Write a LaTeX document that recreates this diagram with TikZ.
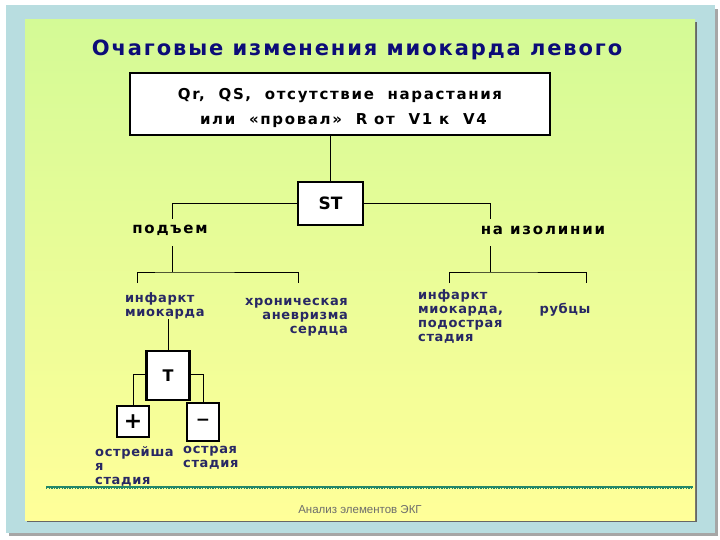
\documentclass[tikz,border=0pt]{standalone}
\usepackage{fontspec}
\setmainfont{DejaVu Sans}
\newfontfamily\lblfont[LetterSpace=5]{DejaVu Sans}
\newfontfamily\blkfont[LetterSpace=12]{DejaVu Sans}
\newfontfamily\ttlfont[LetterSpace=9]{DejaVu Sans}
\newfontfamily\boxfont[LetterSpace=11]{DejaVu Sans}
\newfontfamily\footfont{Liberation Sans}
\usetikzlibrary{calc}
\definecolor{frameblue}{RGB}{184,221,224}
\definecolor{topgreen}{RGB}{212,250,150}
\definecolor{botyellow}{RGB}{255,255,153}
\definecolor{navy}{RGB}{12,12,120}
\definecolor{lblnavy}{RGB}{40,40,100}
\definecolor{teal}{RGB}{35,135,105}
\tikzset{
  x=1pt, y=-1pt,
  wbox/.style={draw=black, line width=2.6pt, fill=white, inner sep=0pt, minimum width=#1},
  conn/.style={draw=black, line width=0.9pt},
  lbl/.style={text=lblnavy, font=\lblfont\bfseries\fontsize{13}{14}\selectfont, inner sep=0pt},
  blk/.style={text=black, font=\blkfont\bfseries\fontsize{15}{17}\selectfont, inner sep=0pt},
}
\begin{document}
\begin{tikzpicture}
\useasboundingbox (0,0) rectangle (720,540);
% outer frame with shadow
\fill[gray!70] (9,9) rectangle (718,536);
\fill[frameblue] (6,5) rectangle (715,533);
% inner panel shadow and gradient
\fill[gray!80!black] (27,22) rectangle (697,522);
\shade[top color=topgreen, bottom color=botyellow] (25,20) rectangle (695,520);
% title
\node (title) [text=navy, font=\ttlfont\bfseries\fontsize{21}{24}\selectfont] at (357,50) {Очаговые изменения миокарда левого};
% top box
\node (top) [wbox=420pt, minimum height=62pt, align=center, font=\boxfont\bfseries\fontsize{15}{25}\selectfont] at (340,104)
  {\rule{0pt}{19pt}Qr,\ \ QS,\ \ отсутствие\ \ нарастания\\ \ или\ \ «провал»\ \ R от\ \ V1 к\ \ V4};
% ST box
\node (ST) [wbox=65pt, minimum height=43pt, font=\bfseries\fontsize{17}{20}\selectfont] at (330.5,203.5) {ST};
\draw[conn] (ST.north) -- (ST.north |- top.south);
% branch labels
\node (lift) [blk] at (170,230) {подъем};
\node (iso) [blk] at (543,230) {на изолинии};
\coordinate (lt) at (172,219);
\coordinate (lb) at (172,246);
\coordinate (rt) at (490,219);
\coordinate (rb) at (490,246);
\draw[conn] (ST.west) -| (lt);
\draw[conn] (ST.east) -| (rt);
% lower left branch
\coordinate (lh) at (172,272);
\coordinate (l1) at (137,283);
\coordinate (l2) at (298,283);
\draw[conn] (lb) -- (lh);
\draw[conn] (l1) |- (lh) -| (l2);
% lower right branch
\coordinate (rh) at (490,272);
\coordinate (r1) at (449,283);
\coordinate (r2) at (586,283);
\draw[conn] (rb) -- (rh);
\draw[conn] (r1) |- (rh) -| (r2);
% leaf labels
\node (inf) [lbl, anchor=north west, align=left] at (125,292) {инфаркт\\миокарда};
\node (chron) [lbl, anchor=north east, align=right] at (348,298) {хроническая\\аневризма\\сердца};
\node (sub) [lbl, anchor=north west, align=left] at (418,289) {инфаркт\\миокарда,\\подострая\\стадия};
\node (scar) [lbl] at (565,310) {рубцы};
% T subtree
\node (T) [wbox=43pt, minimum height=49pt, font=\bfseries\fontsize{16}{19}\selectfont] at (168,375.5) {T};
\draw[conn] (T.north) -- (T.north |- inf.south);
\node (plus) [wbox=32pt, minimum height=31pt, font=\bfseries\fontsize{22}{24}\selectfont] at (133,421.5) {+};
\node (minus) [wbox=32pt, minimum height=38pt, font=\bfseries\fontsize{17}{20}\selectfont] at (203,422) {\raisebox{-3pt}{−}};
\draw[conn] ([yshift=1.5pt]T.west) -| (plus.north);
\draw[conn] ([yshift=1.5pt]T.east) -| (minus.north);
\node (acute1) [lbl, anchor=north west, align=left] at (95,446) {острейша\\я\\стадия};
\node (acute2) [lbl, anchor=north west, align=left] at (183,446) {острая\\стадия};
% divider
\coordinate (dl) at (46,487);
\coordinate (dr) at (693,487);
\draw[teal, line width=1.6pt] (dl) -- (dr);
\draw[teal, line width=3pt, dash pattern=on 1.3pt off 1.3pt] (dl) -- (dr);
% footer
\node (foot) [text=gray!85!black, font=\footfont\fontsize{11.5}{13}\selectfont] at (360,510) {Анализ элементов ЭКГ};
\end{tikzpicture}
\end{document}
